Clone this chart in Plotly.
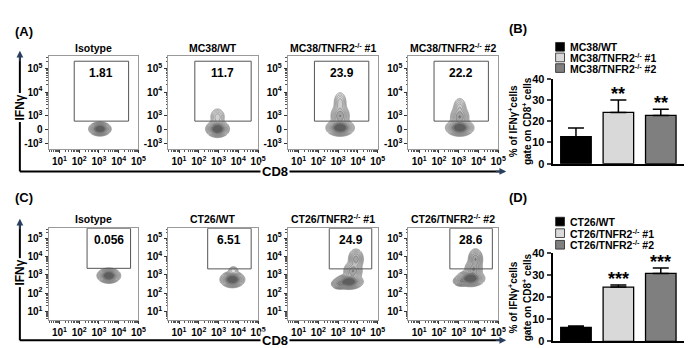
import numpy as np
import plotly.graph_objects as go

W, H = 694, 348
FONT = "Arial, Liberation Sans, sans-serif"

# ---------------- data ----------------
TOP_TITLES = ["Isotype", "MC38/WT", "MC38/TNFR2<sup>-/-</sup> #1", "MC38/TNFR2<sup>-/-</sup> #2"]
BOT_TITLES = ["Isotype", "CT26/WT", "CT26/TNFR2<sup>-/-</sup> #1", "CT26/TNFR2<sup>-/-</sup> #2"]
TOP_PCT = ["1.81", "11.7", "23.9", "22.2"]
BOT_PCT = ["0.056", "6.51", "24.9", "28.6"]

# gates in display units (decades on the CD8 / IFNg display scale)
TOP_GATE_X = [(1.75, 4.50), (1.80, 4.65), (1.80, 4.55), (1.75, 4.50)]
TOP_GATE_Y = [(2.78, 5.30), (2.78, 5.30), (2.78, 5.30), (2.78, 5.30)]
BOT_GATE_X = [(2.40, 4.60), (2.45, 4.65), (2.55, 4.70), (2.55, 4.70)]
BOT_GATE_Y = [(3.35, 5.53), (3.32, 5.53), (3.32, 5.53), (3.32, 5.53)]

# cell populations: (centre x, centre y, spread x, spread y, weight)
TOP_POPS = [
    [(3.05, 2.45, 0.19, 0.10, 1.0)],
    [(2.95, 2.45, 0.20, 0.12, 1.0), (2.95, 2.95, 0.16, 0.16, 0.10)],
    [(3.10, 2.50, 0.24, 0.12, 1.0), (3.10, 3.00, 0.18, 0.18, 0.30), (3.10, 3.55, 0.14, 0.20, 0.10)],
    [(3.05, 2.50, 0.24, 0.12, 1.0), (3.05, 2.95, 0.18, 0.17, 0.30), (3.05, 3.35, 0.14, 0.18, 0.10)],
]
BOT_POPS = [
    [(3.50, 2.95, 0.20, 0.14, 1.0)],
    [(3.70, 2.74, 0.21, 0.15, 1.0), (3.75, 3.25, 0.12, 0.10, 0.06)],
    [(3.55, 2.62, 0.24, 0.14, 1.0), (3.05, 2.50, 0.15, 0.11, 0.30), (3.75, 3.20, 0.18, 0.20, 0.30),
     (3.90, 3.85, 0.15, 0.22, 0.25)],
    [(3.60, 2.80, 0.24, 0.15, 1.0), (3.10, 2.65, 0.15, 0.11, 0.25), (3.75, 3.30, 0.17, 0.20, 0.30),
     (3.85, 3.85, 0.14, 0.22, 0.30)],
]

MC_GROUPS = ["MC38/WT", "MC38/TNFR2<sup>-/-</sup> #1", "MC38/TNFR2<sup>-/-</sup> #2"]
MC_MEAN = [12.7, 24.1, 22.7]
MC_ERR = [4.1, 5.9, 2.9]
MC_SIG = ["", "**", "**"]

CT_GROUPS = ["CT26/WT", "CT26/TNFR2<sup>-/-</sup> #1", "CT26/TNFR2<sup>-/-</sup> #2"]
CT_MEAN = [6.3, 24.7, 30.9]
CT_ERR = [0.7, 0.9, 2.5]
CT_SIG = ["", "***", "***"]

BAR_COLORS = ["#000000", "#d9d9d9", "#7f7f7f"]

# ---------------- layout constants ----------------
PANEL_LEFT = [41, 162, 283, 405]
PANEL_W = 91
TOP_Y_PX = (44, 140)
BOT_Y_PX = (222, 317)
X_RANGE = (0.45, 5.0)
TOP_Y_RANGE = (1.6, 5.5)
BOT_Y_RANGE = (0.53, 5.53)


def px_x(p):
    return p / W


def px_y(p):
    return 1 - p / H


def biex(v):
    v = np.asarray(v, dtype=float)
    return np.where(v >= 1000, np.log10(np.maximum(v, 1e-9)), 2.41 + 0.59 * v / 1000.0)


def sup(e):
    return "10<sup>%d</sup>" % e


def density(pops, xr, yr):
    xg = np.linspace(xr[0], xr[1], 160)
    yg = np.linspace(yr[0], yr[1], 160)
    X, Y = np.meshgrid(xg, yg)
    Z = np.zeros_like(X)
    for cx, cy, sx, sy, w in pops:
        Z += w * np.exp(-0.5 * (((X - cx) / sx) ** 2 + ((Y - cy) / sy) ** 2))
    Z = np.log10(np.maximum(Z / Z.max(), 1e-4))
    return xg, yg, Z


fig = go.Figure()
layout = dict(
    width=W, height=H, margin=dict(l=0, r=0, t=0, b=0),
    paper_bgcolor="white", plot_bgcolor="white", showlegend=False,
    font=dict(family=FONT, color="black"),
)
annotations = []
shapes = []

tickfont = dict(family=FONT, size=10, weight="bold", color="black")
x_minor = [d + np.log10(k) for d in range(0, 6) for k in range(2, 10) if X_RANGE[0] < d + np.log10(k) < X_RANGE[1]]

gray_scale = [[0, "white"], [0.12, "white"], [0.3, "#f0f0f0"], [0.7, "#bdbdbd"], [1, "#5e5e5e"]]

rows = [
    (TOP_TITLES, TOP_PCT, TOP_GATE_X, TOP_GATE_Y, TOP_POPS, TOP_Y_PX, TOP_Y_RANGE, 0),
    (BOT_TITLES, BOT_PCT, BOT_GATE_X, BOT_GATE_Y, BOT_POPS, BOT_Y_PX, BOT_Y_RANGE, 1),
]
k = 0
for titles, pcts, gx, gy, pops, ypx, yrange, rowi in rows:
    if rowi == 0:
        yvals = list(biex([-1000, 0, 1000, 1e4, 1e5]))
        ytext = ["-10<sup>3</sup>", "0", sup(3), sup(4), sup(5)]
        y_minor = [d + np.log10(kk) for d in range(3, 6) for kk in range(2, 10) if d + np.log10(kk) < yrange[1]]
    else:
        yvals = [1, 2, 3, 4, 5]
        ytext = [sup(e) for e in yvals]
        y_minor = [d + np.log10(kk) for d in range(0, 6) for kk in range(2, 10) if yrange[0] < d + np.log10(kk) < yrange[1]]
    for i in range(4):
        k += 1
        xa, ya = "x%d" % k, "y%d" % k
        xg, yg, Z = density(pops[i], X_RANGE, yrange)
        fig.add_trace(go.Contour(
            x=xg, y=yg, z=Z, xaxis=xa, yaxis=ya, showscale=False, hoverinfo="skip",
            colorscale=gray_scale, zmin=-2.3, zmax=0,
            contours=dict(start=-2.0, end=-0.15, size=0.21, coloring="fill"),
            line=dict(color="rgba(95,95,95,0.85)", width=0.6),
        ))
        left = PANEL_LEFT[i]
        layout["xaxis%d" % k] = dict(
            domain=[px_x(left), px_x(left + PANEL_W)], anchor=ya, range=list(X_RANGE),
            showgrid=False, zeroline=False, showline=True, mirror=True, linecolor="#9a9a9a", linewidth=1,
            tickmode="array", tickvals=[1, 2, 3, 4, 5], ticktext=[sup(e) for e in range(1, 6)],
            ticks="outside", ticklen=3, tickcolor="#333", tickfont=tickfont,
            minor=dict(tickvals=x_minor, ticks="outside", ticklen=1.5, tickcolor="#555"),
        )
        layout["yaxis%d" % k] = dict(
            domain=[px_y(ypx[1]), px_y(ypx[0])], anchor=xa, range=list(yrange),
            showgrid=False, zeroline=False, showline=True, mirror=True, linecolor="#9a9a9a", linewidth=1,
            tickmode="array", tickvals=yvals, ticktext=ytext,
            ticks="outside", ticklen=3, tickcolor="#333", tickfont=tickfont,
            minor=dict(tickvals=y_minor, ticks="outside", ticklen=1.5, tickcolor="#555"),
        )
        # gate
        shapes.append(dict(type="rect", xref=xa, yref=ya, x0=gx[i][0], x1=gx[i][1], y0=gy[i][0], y1=gy[i][1],
                           line=dict(color="#555", width=1), fillcolor="rgba(0,0,0,0)", layer="above"))
        annotations.append(dict(xref=xa, yref=ya, x=(gx[i][0] + gx[i][1]) / 2, y=gy[i][1], yanchor="top",
                                yshift=-3, text=pcts[i], showarrow=False,
                                font=dict(family=FONT, size=12, weight="bold")))
        # panel title
        title_y = 35 if rowi == 0 else 212
        annotations.append(dict(xref="paper", yref="paper", x=px_x(left + PANEL_W / 2), y=px_y(title_y),
                                text=titles[i], showarrow=False, xanchor="center", yanchor="middle",
                                font=dict(family=FONT, size=10.5, weight="bold")))

# ---------------- bar charts ----------------
bar_specs = [
    (MC_GROUPS, MC_MEAN, MC_ERR, MC_SIG, (155, 67), 34, 11.0),
    (CT_GROUPS, CT_MEAN, CT_ERR, CT_SIG, (339, 248), 215, 12.0),
]
for groups, mean, err, sig, (y0px, y40px), leg_top, leg_step in bar_specs:
    k += 1
    xa, ya = "x%d" % k, "y%d" % k
    idx = list(range(len(groups)))
    fig.add_trace(go.Bar(
        x=idx, y=mean, xaxis=xa, yaxis=ya, width=0.72, hoverinfo="skip",
        marker=dict(color=BAR_COLORS, line=dict(color="black", width=1.3)),
        error_y=dict(type="data", symmetric=False, array=err, arrayminus=[0] * len(err),
                     color="black", thickness=1.5, width=8),
    ))
    layout["xaxis%d" % k] = dict(domain=[px_x(551), px_x(684)], anchor=ya, range=[-0.55, 2.55],
                                 showgrid=False, zeroline=False, showline=True, linecolor="black", linewidth=2,
                                 showticklabels=False, ticks="")
    layout["yaxis%d" % k] = dict(domain=[px_y(y0px), px_y(y40px)], anchor=xa, range=[0, 40],
                                 showgrid=False, zeroline=False, showline=True, linecolor="black", linewidth=2,
                                 tickvals=[0, 10, 20, 30, 40], ticks="outside", ticklen=4, tickwidth=1.5,
                                 tickfont=dict(family=FONT, size=11, weight="bold"))
    for i in idx:
        if sig[i]:
            annotations.append(dict(xref=xa, yref=ya, x=i, y=mean[i] + err[i], yanchor="bottom", yshift=-6,
                                    text=sig[i], showarrow=False,
                                    font=dict(family=FONT, size=18, weight="bold")))
    # y axis title (two stacked rotated lines)
    for line_txt, lx in [("% of IFN\u03b3<sup>+</sup>cells", 511), ("gate on CD8<sup>+</sup> cells", 525)]:
        annotations.append(dict(xref="paper", yref="paper", x=px_x(lx), y=px_y((y0px + y40px) / 2),
                                text=line_txt, textangle=-90, showarrow=False, xanchor="center",
                                yanchor="middle", font=dict(family=FONT, size=10, weight="bold")))
    # legend
    for i, g in enumerate(groups):
        cy = leg_top + i * leg_step
        shapes.append(dict(type="rect", xref="paper", yref="paper", x0=px_x(554), x1=px_x(563),
                           y0=px_y(cy + 4.5), y1=px_y(cy - 4.5), fillcolor=BAR_COLORS[i],
                           line=dict(color="#222", width=0.8)))
        annotations.append(dict(xref="paper", yref="paper", x=px_x(567), y=px_y(cy), xanchor="left",
                                yanchor="middle", text=g, showarrow=False,
                                font=dict(family=FONT, size=10.5, weight="bold")))

# ---------------- panel letters ----------------
for txt, (cx, cy) in [("(A)", (16, 18)), ("(B)", (516, 15)), ("(C)", (16, 190)), ("(D)", (516, 190))]:
    annotations.append(dict(xref="paper", yref="paper", x=px_x(cx), y=px_y(cy), text=txt, showarrow=False,
                            xanchor="center", yanchor="middle", font=dict(family=FONT, size=13, weight="bold")))

# ---------------- big IFNg / CD8 arrows ----------------
for top_px, base_px, label_y in [(38, 163, 97), (212, 338, 268)]:
    shapes.append(dict(type="line", xref="paper", yref="paper", x0=px_x(12), x1=px_x(12),
                       y0=px_y(base_px), y1=px_y(top_px + 4), line=dict(color="black", width=2)))
    shapes.append(dict(type="line", xref="paper", yref="paper", x0=px_x(12), x1=px_x(498),
                       y0=px_y(base_px), y1=px_y(base_px), line=dict(color="black", width=2)))
    annotations.append(dict(xref="paper", yref="paper", x=px_x(12), y=px_y(top_px), ax=0, ay=12,
                            showarrow=True, arrowhead=2, arrowsize=0.9, arrowwidth=1.5, text=""))
    annotations.append(dict(xref="paper", yref="paper", x=px_x(504), y=px_y(base_px), ax=-12, ay=0,
                            showarrow=True, arrowhead=2, arrowsize=0.9, arrowwidth=1.5, text=""))
    annotations.append(dict(xref="paper", yref="paper", x=px_x(12), y=px_y(label_y), text="IFN\u03b3",
                            textangle=-90, showarrow=False, bgcolor="white", xanchor="center", yanchor="middle",
                            font=dict(family=FONT, size=12, weight="bold")))
    annotations.append(dict(xref="paper", yref="paper", x=px_x(270), y=px_y(base_px), text="CD8",
                            showarrow=False, bgcolor="white", xanchor="center", yanchor="middle",
                            font=dict(family=FONT, size=13, weight="bold")))

layout["annotations"] = annotations
layout["shapes"] = shapes
fig.update_layout(**layout)
fig.write_html("out.html")
